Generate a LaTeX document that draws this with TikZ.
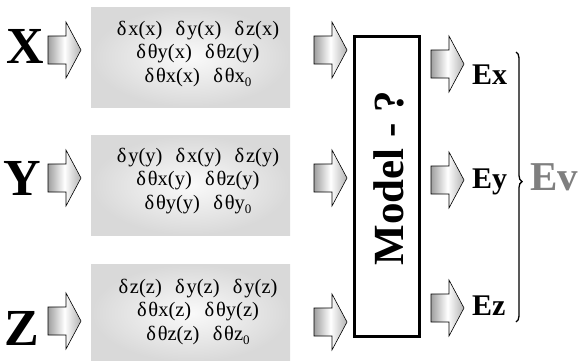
\documentclass[tikz,border=0pt]{standalone}
\usepackage{fontspec}
\setmainfont{Liberation Serif}
\usetikzlibrary{decorations.pathreplacing}
\definecolor{evgray}{HTML}{7F7F7F}
\newcommand\mydl{δ\kern1.8pt}
\newcommand\mysub[1]{\raisebox{-0.22em}{\fontsize{13}{13}\selectfont #1}}
\newcommand\mygap{\hspace{0.65em}}
\begin{document}
\begin{tikzpicture}[x=1pt,y=-1pt,
  graybox/.style={rectangle, inner sep=0pt, inner color=black!2, outer color=black!15,
    minimum width=199pt, minimum height=100pt},
  boxtext/.style={align=center, inner sep=0pt, font=\fontsize{20.5}{23.5}\selectfont},
  arrowfill/.style={draw=black, line width=0.6pt, left color=black!38, right color=black!30, middle color=white, line join=miter},
  pics/barrow/.style={code={\path[arrowfill] (-16,-14) -- (2,-14) -- (2,-28) -- (17,0) -- (2,28) -- (2,14) -- (-16,14) -- cycle;}},
  biglabel/.style={font=\fontsize{52}{52}\selectfont\bfseries, inner sep=0pt, anchor=base},
  outlabel/.style={font=\fontsize{30}{30}\selectfont\bfseries, inner sep=0pt, anchor=base west},
  modelbox/.style={draw, line width=3pt, inner sep=0pt, minimum width=65pt, minimum height=300pt}
]
\useasboundingbox (0,0) rectangle (584,360);

% gray boxes
\node[graybox] (b1) at (190.5,57) {};
\node[graybox] (b2) at (190.5,185) {};
\node[graybox, minimum height=98pt] (b3) at (190.5,313) {};

\node[boxtext] (t1) at (198,54) {\mydl x(x)\mygap\mydl y(x)\mygap\mydl z(x)\\ \mydl θy(x)\mygap\mydl θz(y)\\ \mydl θx(x)\mygap\mydl θx\mysub{0}};
\node[boxtext] (t2) at (198,181) {\mydl y(y)\mygap\mydl x(y)\mygap\mydl z(y)\\ \mydl θx(y)\mygap\mydl θz(y)\\ \mydl θy(y)\mygap\mydl θy\mysub{0}};
\node[boxtext] (t3) at (198,312) {\mydl z(z)\mygap\mydl y(z)\mygap\mydl y(z)\\ \mydl θx(z)\mygap\mydl θy(z)\\ \mydl θz(z)\mygap\mydl θz\mysub{0}};

% input labels
\node[biglabel] (lx) at (25,63) {X};
\node[biglabel] (ly) at (22,195) {Y};
\node[biglabel] (lz) at (22,345) {Z};

% arrows
\pic (ia1) at (64,50) {barrow};
\pic (ia2) at (64,178) {barrow};
\pic (ia3) at (64,321) {barrow};
\pic (ma1) at (330,50) {barrow};
\pic (ma2) at (330,178) {barrow};
\pic (ma3) at (330,322) {barrow};
\pic (oa1) at (447,64) {barrow};
\pic (oa2) at (447,180) {barrow};
\pic (oa3) at (447,308) {barrow};

% model
\node[modelbox] (model) at (387,186.5) {};
\node[rotate=90, anchor=base, inner sep=0pt, font=\fontsize{43}{43}\selectfont\bfseries] (mtext) at (403,178) {Model - ?};

% outputs
\node[outlabel] (ex) at (472,84) {Ex};
\node[outlabel] (ey) at (472,188) {Ey};
\node[outlabel] (ez) at (472,315) {Ez};

% brace
\coordinate (brtop) at (516,52);
\coordinate (brbot) at (516,322);
\draw[decorate, decoration={brace, amplitude=6pt, aspect=0.48}, line width=1.3pt] (brtop) -- (brbot);

\node[font=\fontsize{41}{41}\selectfont\bfseries, text=evgray, inner sep=0pt, anchor=base west] (ev) at (530,190) {Ev};
\end{tikzpicture}
\end{document}
